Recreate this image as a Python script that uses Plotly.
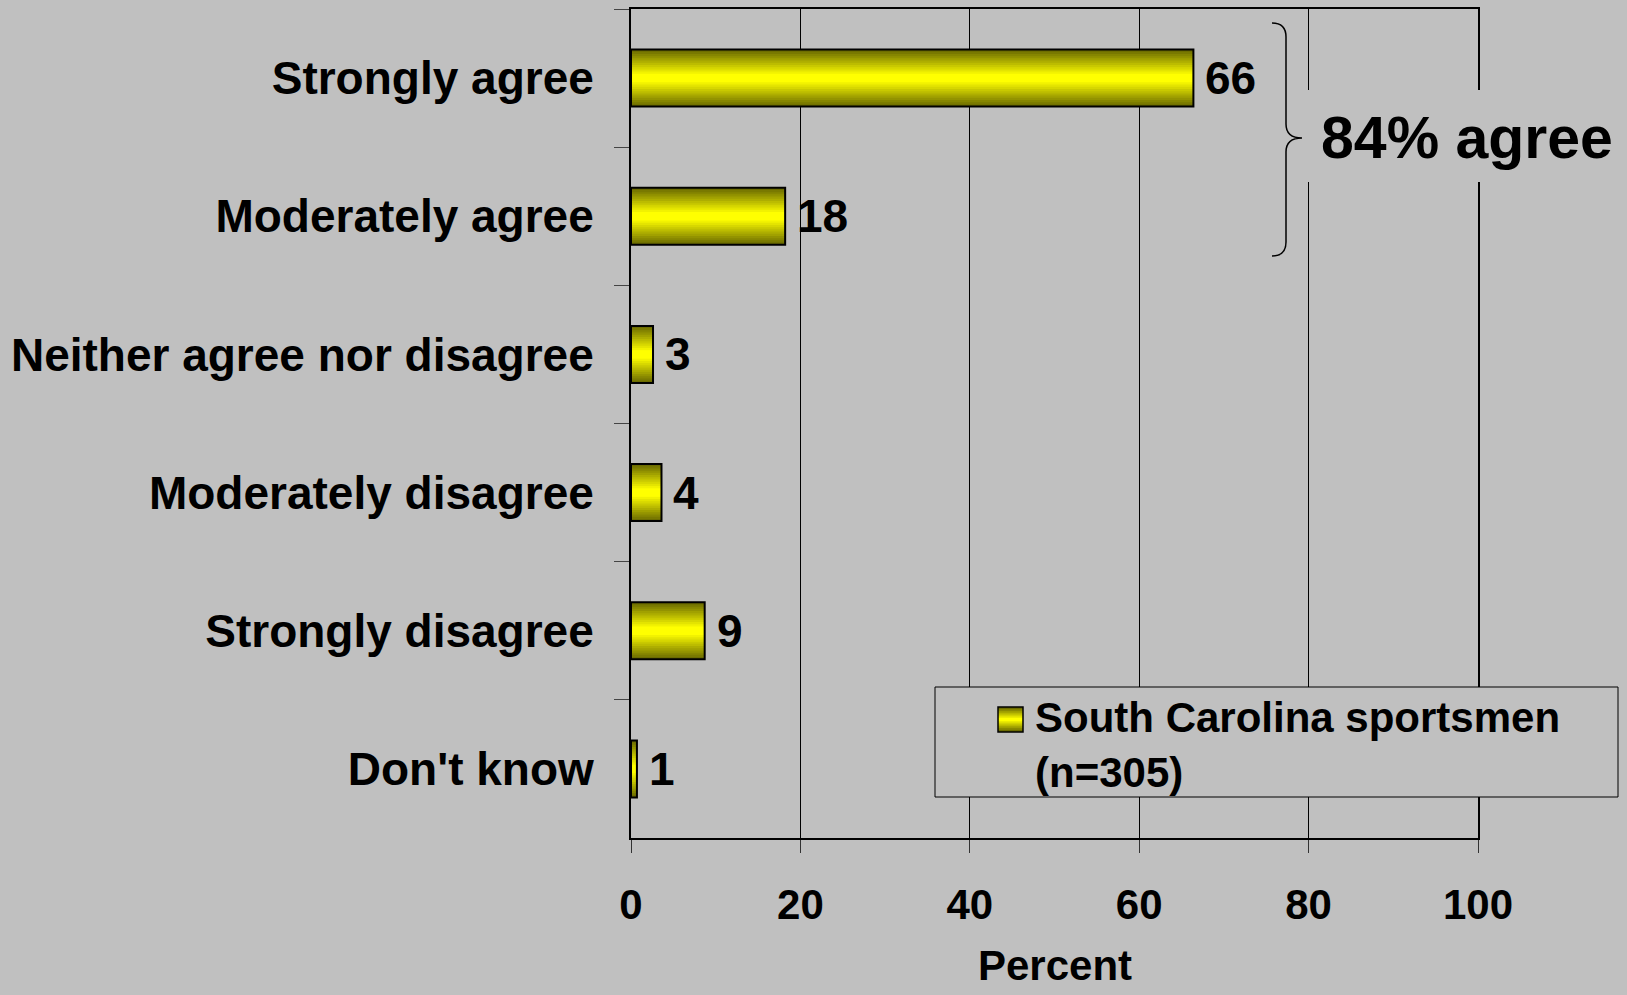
import plotly.graph_objects as go

# ---- data ----
categories = ["Strongly agree", "Moderately agree", "Neither agree nor disagree",
              "Moderately disagree", "Strongly disagree", "Don't know"]
values = [66.4, 18.2, 2.6, 3.6, 8.7, 0.7]
value_labels = ["66", "18", "3", "4", "9", "1"]
series_name = "South Carolina sportsmen<br>(n=305)"
x_ticks = [0, 20, 40, 60, 80, 100]
x_title = "Percent"
bracket_label = "84% agree"

# ---- layout geometry ----
W, H = 1627, 995
L, R, T, B = 631, 1478, 9, 838
BG = "#c0c0c0"
FONT = "Liberation Sans, Arial, sans-serif"

def px(x):
    return (x - L) / (R - L)

def py(y):
    return (B - y) / (B - T)

fig = go.Figure()

# gradient bars: overlaid bars of decreasing thickness
n_layers = 12
bar_w = 0.413
for i in range(n_layers):
    f = i / (n_layers - 1)
    lv = 0.42 + 0.58 * f
    r = int(round(255 * lv))
    col = f"rgb({r},{r},0)"
    w = bar_w * (1 - 0.85 * f)
    fig.add_trace(go.Bar(
        x=values, y=categories, orientation="h", width=w,
        marker=dict(color=col, line=dict(width=0)),
        showlegend=False, hoverinfo="skip"))

# outline on top
fig.add_trace(go.Bar(
    x=values, y=categories, orientation="h", width=bar_w,
    marker=dict(color="rgba(0,0,0,0)", line=dict(color="black", width=2)),
    name=series_name, showlegend=False))

annotations = []
for c, v, t in zip(categories, values, value_labels):
    annotations.append(dict(x=v, y=c, xref="x", yref="y", text=t, showarrow=False,
                            xanchor="left", yanchor="middle", xshift=10,
                            font=dict(family=FONT, size=46, color="black", weight="bold")))

# "84% agree" label
annotations.append(dict(x=px(1319), y=py(138), xref="paper", yref="paper",
                        text=bracket_label, showarrow=False, xanchor="left", yanchor="middle",
                        font=dict(family=FONT, size=59, color="black", weight="bold")))

# manual legend text
annotations.append(dict(x=px(1033), y=py(745), xref="paper", yref="paper",
                        text=series_name, showarrow=False, xanchor="left", yanchor="middle",
                        align="left",
                        font=dict(family=FONT, size=42, color="black", weight="bold")))

# x-axis title
annotations.append(dict(x=0.5, y=py(966), xref="paper", yref="paper",
                        text=x_title, showarrow=False, xanchor="center", yanchor="middle",
                        font=dict(family=FONT, size=42, color="black", weight="bold")))

shapes = []
# background patch behind "84% agree" (breaks the gridlines)
shapes.append(dict(type="rect", xref="paper", yref="paper", layer="above",
                   x0=px(1305), x1=px(1627), y0=py(182), y1=py(90),
                   fillcolor=BG, line=dict(width=0)))
# brace
brace = (f"M {px(1272)},{py(23)} Q {px(1286)},{py(23)} {px(1286)},{py(37)} "
         f"L {px(1286)},{py(124)} Q {px(1286)},{py(138)} {px(1302)},{py(138)} "
         f"Q {px(1286)},{py(138)} {px(1286)},{py(152)} "
         f"L {px(1286)},{py(242)} Q {px(1286)},{py(256)} {px(1272)},{py(256)}")
shapes.append(dict(type="path", xref="paper", yref="paper", layer="above",
                   path=brace, line=dict(color="black", width=1.5)))
# legend box
shapes.append(dict(type="rect", xref="paper", yref="paper", layer="above",
                   x0=px(935), x1=px(1618), y0=py(797), y1=py(687),
                   fillcolor=BG, line=dict(color="black", width=1)))
# legend swatch (gradient)
sw_x0, sw_x1, sw_y0, sw_y1 = 998, 1023, 707, 732
for i in range(6):
    f = i / 5
    lv = 0.42 + 0.58 * f
    r = int(round(255 * lv))
    inset = (sw_y1 - sw_y0) / 2 * 0.85 * f
    shapes.append(dict(type="rect", xref="paper", yref="paper", layer="above",
                       x0=px(sw_x0), x1=px(sw_x1), y0=py(sw_y1 - inset), y1=py(sw_y0 + inset),
                       fillcolor=f"rgb({r},{r},0)", line=dict(width=0)))
shapes.append(dict(type="rect", xref="paper", yref="paper", layer="above",
                   x0=px(sw_x0), x1=px(sw_x1), y0=py(sw_y1), y1=py(sw_y0),
                   fillcolor="rgba(0,0,0,0)", line=dict(color="black", width=1.5)))

fig.update_layout(
    width=W, height=H,
    margin=dict(l=L, r=W - R, t=T, b=H - B, autoexpand=False),
    paper_bgcolor=BG, plot_bgcolor=BG,
    barmode="overlay",
    showlegend=False,
    font=dict(family=FONT, color="black"),
    annotations=annotations,
    shapes=shapes,
    xaxis=dict(range=[0, 100], tickvals=x_ticks, ticktext=[str(t) for t in x_ticks],
               showgrid=True, gridcolor="black", gridwidth=1,
               showline=True, linecolor="black", linewidth=2, mirror=True,
               ticks="outside", ticklen=13, tickcolor="#333333", tickwidth=1,
               tickfont=dict(family=FONT, size=42, color="black", weight="bold"),
               ticklabelstandoff=16, zeroline=False, automargin=False),
    yaxis=dict(categoryorder="array", categoryarray=categories, autorange="reversed",
               showgrid=False, showline=True, linecolor="black", linewidth=2, mirror=True,
               ticks="outside", tickson="boundaries", ticklen=15, tickcolor="#444444", tickwidth=1,
               tickfont=dict(family=FONT, size=46, color="black", weight="bold"),
               ticklabelstandoff=26, automargin=False),
)

fig.write_html("out.html",
               config={"displayModeBar": False},
               post_script="document.body.style.margin='0';"
                           "document.body.style.background='#c0c0c0';")
